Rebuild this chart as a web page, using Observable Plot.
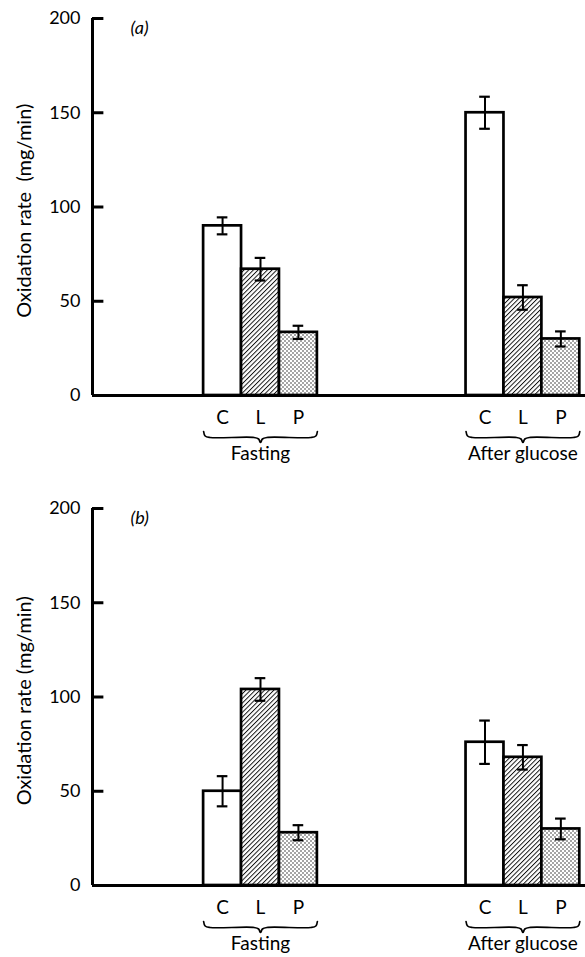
<!DOCTYPE html>
<html>
<head>
<meta charset="utf-8">
<script src="https://cdn.jsdelivr.net/npm/d3@7"></script>
<script src="https://cdn.jsdelivr.net/npm/@observablehq/plot@0.6"></script>
<style>
  body { margin: 0; background: #fff; }
  #chart svg { display: block; }
</style>
</head>
<body>
<div id="chart"></div>
<script>
// ---------- data ----------
const treatments = ["C", "L", "P"];
const conditions = ["Fasting", "After glucose"];
const yTicks = [0, 50, 100, 150, 200];
const panelLabels = ["(a)", "(b)"];
const yLabels = ["Oxidation rate  (mg/min)", "Oxidation rate (mg/min)"];

const aFastingMean = [90, 67, 33.5];
const aFastingErr  = [4.5, 6, 3.5];
const aGlucoseMean = [150, 52, 30];
const aGlucoseErr  = [8.5, 6.5, 4];

const bFastingMean = [50, 104, 28];
const bFastingErr  = [8, 6, 4];
const bGlucoseMean = [76, 68, 30];
const bGlucoseErr  = [11.5, 6.5, 5.5];

// ---------- layout ----------
const W = 585;
const groupStart = [2.93, 9.85];   // left edge of each group, in bar-width units
const pxPerUnitY = 377 / 200;

function buildRows(meansList, errsList) {
  const out = [];
  meansList.forEach((means, ci) => {
    means.forEach((m, i) => {
      out.push({
        cond: conditions[ci], t: treatments[i], mean: m, err: errsList[ci][i],
        x1: groupStart[ci] + i, x2: groupStart[ci] + i + 1, xc: groupStart[ci] + i + 0.5
      });
    });
  });
  return out;
}

function bracePoints() {
  const pts = [];
  conditions.forEach((c, ci) => {
    const xa = groupStart[ci], xb = groupStart[ci] + 3, xc = (xa + xb) / 2, r = 0.17;
    const shape = [[xa, 36], [xa + 0.04, 40.5], [xa + r, 42], [xc - r, 42], [xc - 0.05, 43.5], [xc, 47],
                   [xc + 0.05, 43.5], [xc + r, 42], [xb - r, 42], [xb - 0.04, 40.5], [xb, 36]];
    shape.forEach(([x, d]) => pts.push({g: c, x, y: -d / pxPerUnitY}));
  });
  return pts;
}

function panel(idx, meansList, errsList, height, mt, mb) {
  const rows = buildRows(meansList, errsList);
  const hatchId = "hatch" + idx, dotsId = "dots" + idx;
  const fillFor = {C: "white", L: `url(#${hatchId})`, P: `url(#${dotsId})`};
  const font = "Lato, 'Open Sans', sans-serif";
  const groups = conditions.map((c, ci) => ({c, xc: groupStart[ci] + 1.5}));

  const svg = Plot.plot({
    width: W, height,
    marginLeft: 92, marginRight: 0, marginTop: mt, marginBottom: mb,
    style: {fontFamily: font, fontSize: "18px", background: "white", color: "black"},
    x: {domain: [0, 13], axis: null},
    y: {domain: [0, 200], axis: null},
    marks: [
      // bars
      ...treatments.map(t => Plot.rect(rows.filter(d => d.t === t), {
        x1: "x1", x2: "x2", y1: 0, y2: "mean",
        fill: fillFor[t], stroke: "black", strokeWidth: 2.7
      })),
      // error bars
      Plot.ruleX(rows, {x: "xc", y1: d => d.mean - d.err, y2: d => d.mean + d.err, stroke: "black", strokeWidth: 2}),
      Plot.ruleY(rows, {y: d => d.mean + d.err, x1: d => d.xc - 0.14, x2: d => d.xc + 0.14, stroke: "black", strokeWidth: 2.2}),
      Plot.ruleY(rows, {y: d => d.mean - d.err, x1: d => d.xc - 0.14, x2: d => d.xc + 0.14, stroke: "black", strokeWidth: 2.2}),
      // axes
      Plot.ruleY([0], {stroke: "black", strokeWidth: 3}),
      Plot.ruleX([0], {y1: 0, y2: 200, stroke: "black", strokeWidth: 3}),
      Plot.ruleY(yTicks.filter(v => v > 0), {y: d => d, x1: 0, x2: 0.3, stroke: "black", strokeWidth: 3}),
      Plot.text(yTicks, {x: 0, y: d => d, text: d => String(d), textAnchor: "end", dx: -12, fontSize: 18, fill: "black",
        ariaLabel: "ytick-label"}),
      Plot.text([yLabels[idx]], {frameAnchor: "left", y: 98, dx: -68, rotate: -90, textAnchor: "middle", lineAnchor: "middle",
        fontSize: 20, fill: "black", ariaLabel: "y-label"}),
      Plot.text([panelLabels[idx]], {frameAnchor: "top-left", dx: 38, dy: 10, textAnchor: "start", lineAnchor: "middle",
        fontSize: 18, fontStyle: "italic", fill: "black", ariaLabel: "panel-label"}),
      // category labels
      Plot.text(rows, {x: "xc", y: 0, text: "t", dy: 22, fontSize: 19, fill: "black", ariaLabel: "cat-label"}),
      // braces
      Plot.line(bracePoints(), {x: "x", y: "y", z: "g", curve: "catmull-rom", stroke: "black", strokeWidth: 1.7}),
      // group labels
      Plot.text(groups, {x: "xc", y: 0, text: "c", dy: 58, fontSize: 19, fill: "black", ariaLabel: "group-label"})
    ]
  });

  const sel = d3.select(svg);
  sel.selectAll("g[aria-label='y-label'] text").style("letter-spacing", "0.5px");
  sel.selectAll("g[aria-label='group-label'] text").style("letter-spacing", "0.4px");

  const defs = sel.insert("defs", ":first-child");
  const hs = 3.3;
  const h = defs.append("pattern").attr("id", hatchId).attr("patternUnits", "userSpaceOnUse")
    .attr("width", hs).attr("height", hs).attr("patternTransform", "rotate(45)");
  h.append("rect").attr("width", hs).attr("height", hs).attr("fill", "white");
  h.append("line").attr("x1", 0.5).attr("y1", 0).attr("x2", 0.5).attr("y2", hs)
    .attr("stroke", "black").attr("stroke-width", 0.9);
  const p = defs.append("pattern").attr("id", dotsId).attr("patternUnits", "userSpaceOnUse")
    .attr("width", 4).attr("height", 4);
  p.append("rect").attr("width", 4).attr("height", 4).attr("fill", "white");
  p.append("circle").attr("cx", 1).attr("cy", 1).attr("r", 0.8).attr("fill", "#333");
  p.append("circle").attr("cx", 3).attr("cy", 3).attr("r", 0.8).attr("fill", "#333");
  return svg;
}

const chart = document.getElementById("chart");
chart.appendChild(panel(0, [aFastingMean, aGlucoseMean], [aFastingErr, aGlucoseErr], 478, 18, 83));
chart.appendChild(panel(1, [bFastingMean, bGlucoseMean], [bFastingErr, bGlucoseErr], 479, 30, 72));
</script>
</body>
</html>
